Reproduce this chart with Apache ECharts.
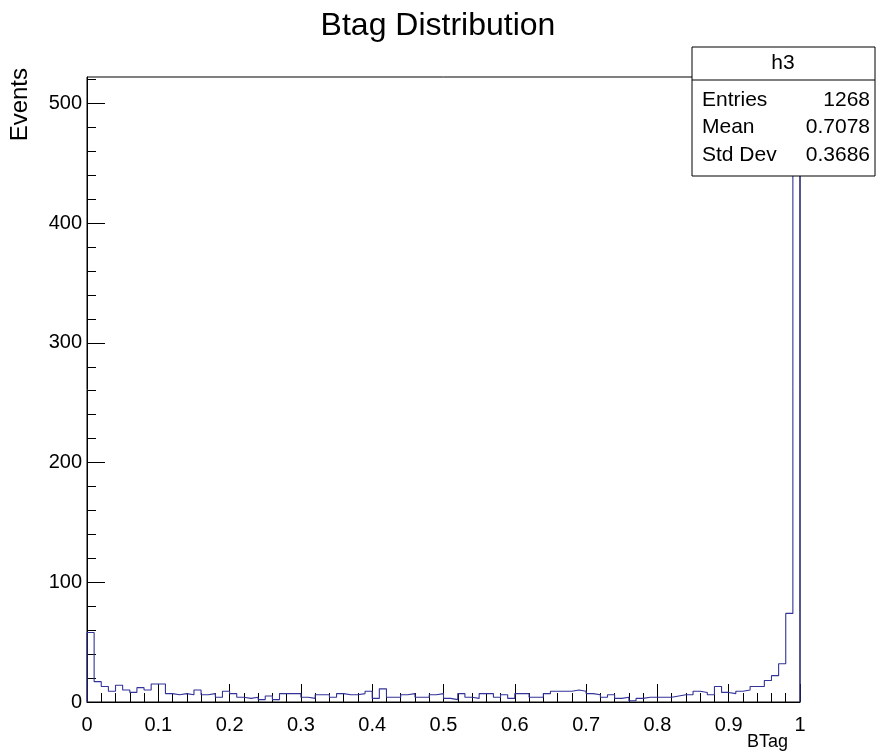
<!DOCTYPE html>
<html lang="en">
<head>
<meta charset="UTF-8">
<title>Btag Distribution</title>
<script src="https://cdn.jsdelivr.net/npm/echarts/dist/echarts.min.js"></script>
</head>
<body style="margin:0;background:#fff">
<div id="main" style="width:877px;height:756px;"></div>
<script>
// histogram h3 : 100 bins between 0 and 1
var binLow = 0, binHigh = 1;
var counts = [
    58, 17, 13, 9, 14, 10, 8, 12, 10, 15,
    15, 7, 6, 7, 6, 10, 6, 7, 4, 9,
    7, 4, 3, 4, 2, 5, 2, 7, 7, 7,
    4, 3, 6, 6, 4, 7, 6, 6, 7, 9,
    3, 11, 4, 4, 6, 7, 4, 4, 6, 7,
    3, 2, 7, 4, 3, 7, 7, 4, 6, 3,
    7, 7, 4, 4, 7, 9, 9, 9, 10, 9,
    7, 6, 4, 6, 3, 4, 1, 3, 4, 4,
    4, 4, 5, 6, 6, 9, 8, 6, 13, 8,
    7, 9, 10, 13, 13, 18, 22, 32, 74, 497
];
var yMax = 522;
var yMajorTicks = [0, 100, 200, 300, 400, 500];
var yMinorTicks = [0, 20, 40, 60, 80, 100, 120, 140, 160, 180, 200, 220, 240, 260,
    280, 300, 320, 340, 360, 380, 400, 420, 440, 460, 480, 500, 520];

var statsName = 'h3';
var statsLabels = ['Entries', 'Mean', 'Std Dev'];
var statsValues = ['1268', '0.7078', '0.3686'];

var font = "'Liberation Sans', Helvetica, Arial, sans-serif";
var histColor = '#333399';

// staircase outline like ROOT draws it
var binW = (binHigh - binLow) / counts.length;
var steps = [[binLow, 0]];
for (var i = 0; i < counts.length; i++) {
    var lo = binLow + i * binW;
    steps.push([lo, counts[i]], [lo + binW, counts[i]]);
}
steps.push([binHigh, 0]);

var myChart = echarts.init(document.getElementById('main'));

function txt(x, y, s, size, align, extra) {
    var el = {
        type: 'text', x: x, y: y, z: 100,
        style: { text: s, font: size + 'px ' + font, fill: '#000', textAlign: align, textVerticalAlign: 'middle' }
    };
    if (extra) for (var key in extra) el[key] = extra[key];
    return el;
}

var graphics = [
    txt(438, 26, 'Btag Distribution', 32, 'center'),
    txt(20, 68, 'Events', 24, 'right', { rotation: Math.PI / 2 }),
    txt(788, 742, 'BTag', 18, 'right'),
    {
        type: 'rect', z: 90,
        shape: { x: 692, y: 47, width: 183, height: 129 },
        style: { fill: '#fff', stroke: '#000', lineWidth: 1 }
    }, {
        type: 'line', z: 95,
        shape: { x1: 692, y1: 80, x2: 875, y2: 80 },
        style: { stroke: '#000', lineWidth: 1 }
    },
    txt(783, 63, statsName, 21, 'center')
];
for (var k = 0; k < statsLabels.length; k++) {
    graphics.push(txt(702, 100 + k * 27.5, statsLabels[k], 21, 'left'));
    graphics.push(txt(870, 100 + k * 27.5, statsValues[k], 21, 'right'));
}

option = {
    animation: false,
    grid: {
        left: 87, top: 77, width: 713, height: 625,
        show: true, borderColor: '#000', borderWidth: 1, backgroundColor: 'transparent'
    },
    xAxis: {
        type: 'value',
        min: 0, max: 1, interval: 0.1,
        axisLine: { lineStyle: { color: '#000', width: 1 } },
        axisTick: { inside: true, length: 18, lineStyle: { color: '#000' } },
        minorTick: { show: true, splitNumber: 5, length: 9, lineStyle: { color: '#000' } },
        splitLine: { show: false },
        axisLabel: { color: '#000', fontSize: 20, fontFamily: font, margin: 13 }
    },
    yAxis: [{
        type: 'value',
        min: 0, max: yMax,
        axisLine: { lineStyle: { color: '#000', width: 1 } },
        axisTick: { inside: true, length: 18, customValues: yMajorTicks, lineStyle: { color: '#000' } },
        splitLine: { show: false },
        axisLabel: { color: '#000', fontSize: 20, fontFamily: font, margin: 5, customValues: yMajorTicks }
    }, {
        type: 'value',
        min: 0, max: yMax,
        position: 'left',
        axisLine: { show: false },
        axisTick: { inside: true, length: 9, customValues: yMinorTicks, lineStyle: { color: '#000' } },
        splitLine: { show: false },
        axisLabel: { show: false }
    }],
    graphic: graphics,
    series: [{
        name: 'h3',
        type: 'line',
        data: steps,
        showSymbol: false,
        lineStyle: { color: histColor, width: 1.1 },
        z: 5
    }]
};
myChart.setOption(option);
</script>
</body>
</html>
